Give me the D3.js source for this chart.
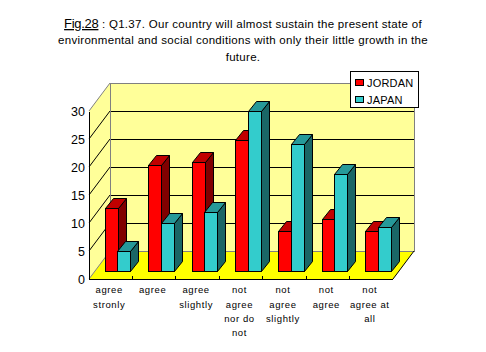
<!DOCTYPE html>
<html>
<head>
<meta charset="utf-8">
<script src="https://d3js.org/d3.v7.min.js"></script>
<style>
  body { margin: 0; background: #fff; }
  text { font-family: "Liberation Sans", Arial, sans-serif; fill: #000; }
</style>
</head>
<body>
<div id="chart"></div>
<script>
const categories = ["agree stronly", "agree", "agree slightly", "not agree nor do not", "not agree slightly", "not agree", "not agree at all"]
const categoryLines = [["agree", "stronly"], ["agree"], ["agree", "slightly"], ["not", "agree", "nor do", "not"], ["not", "agree", "slightly"], ["not", "agree"], ["not", "agree at", "all"]]
const seriesNames = ["JORDAN", "JAPAN"]
const jordan = [11.4, 19, 19.5, 23.5, 7.2, 9.4, 7.2]
const japan = [3.7, 8.7, 10.6, 28.6, 22.8, 17.4, 7.9]
const yTicks = [0, 5, 10, 15, 20, 25, 30]
const titleLines = [
  ": Q1.37. Our country will almost sustain the present state of",
  "environmental and social conditions with only their little growth in the",
  "future."
]

const width = 486, height = 352
const plot = {left: 89, right: 393, top: 111, bottom: 279}
const depth = {x: 21, y: 28}        // wall depth
const barShift = {x: 6.5, y: 8}     // bars stand a bit behind the front edge
const barDepth = {x: 8, y: 10}

const fills = [
  {front: "#ff0000", top: "#c00000", side: "#800000"},
  {front: "#33cccc", top: "#269999", side: "#1a6666"}
]

const svg = d3.select("#chart").append("svg")
  .attr("width", width)
  .attr("height", height)
  .style("display", "block")

const x = d3.scaleBand().domain(categories).range([plot.left, plot.right])
const y = d3.scaleLinear().domain([0, 30]).range([plot.bottom, plot.top])
const barX = d3.scaleBand().domain(seriesNames).range([0, 25])

const pts = a => a.map(p => p.join(",")).join(" ")

// Walls and floor
const geo = svg.append("g")

geo.append("polygon")
  .attr("points", pts([[plot.left, plot.bottom], [plot.left + depth.x, plot.bottom - depth.y], [plot.left + depth.x, plot.top - depth.y], [plot.left, plot.top]]))
  .attr("fill", "#ffff99")
geo.append("rect")
  .attr("x", plot.left + depth.x)
  .attr("y", plot.top - depth.y)
  .attr("width", plot.right - plot.left)
  .attr("height", plot.bottom - plot.top)
  .attr("fill", "#ffff99")
geo.append("polygon")
  .attr("points", pts([[plot.left, plot.bottom], [plot.right, plot.bottom], [plot.right + depth.x, plot.bottom - depth.y], [plot.left + depth.x, plot.bottom - depth.y]]))
  .attr("fill", "#ffff00")

// Gridlines on both walls
yTicks.slice(1, -1).forEach(t => {
  geo.append("line")
    .attr("x1", plot.left).attr("y1", y(t))
    .attr("x2", plot.left + depth.x).attr("y2", y(t) - depth.y)
    .attr("stroke", "#000")
  geo.append("line")
    .attr("x1", plot.left + depth.x).attr("y1", y(t) - depth.y + 0.5)
    .attr("x2", plot.right + depth.x).attr("y2", y(t) - depth.y + 0.5)
    .attr("stroke", "#000")
    .attr("shape-rendering", "crispEdges")
})

// Back wall border
geo.append("path")
  .attr("d", `M${plot.left + depth.x},${plot.bottom - depth.y}V${plot.top - depth.y}H${plot.right + depth.x}V${plot.bottom - depth.y}H${plot.left + depth.x}`)
  .attr("fill", "none").attr("stroke", "#808080").attr("shape-rendering", "crispEdges")
geo.append("line")
  .attr("x1", plot.left).attr("y1", plot.top)
  .attr("x2", plot.left + depth.x).attr("y2", plot.top - depth.y)
  .attr("stroke", "#808080")
geo.append("line")
  .attr("x1", plot.left).attr("y1", plot.bottom)
  .attr("x2", plot.left + depth.x).attr("y2", plot.bottom - depth.y)
  .attr("stroke", "#808080")
geo.append("line")
  .attr("x1", plot.right).attr("y1", plot.bottom)
  .attr("x2", plot.right + depth.x).attr("y2", plot.bottom - depth.y)
  .attr("stroke", "#000")

// Bars
const h = v => y(0) - y(v)
categories.forEach((c, i) => {
  [jordan[i], japan[i]].forEach((v, s) => {
    const x0 = Math.round(x(c) + x.bandwidth() / 2 - 12.5 + barShift.x + barX(seriesNames[s])) + 0.5
    const x1 = x0 + Math.round(barX.bandwidth())
    const yb = y(0) - barShift.y + 0.5
    const yt = Math.round(yb - h(v)) + 0.5
    const g = svg.append("g").attr("stroke", "#000").attr("stroke-linejoin", "miter")
    g.append("polygon").attr("fill", fills[s].side)
      .attr("points", pts([[x1, yb], [x1 + barDepth.x, yb - barDepth.y], [x1 + barDepth.x, yt - barDepth.y], [x1, yt]]))
    g.append("polygon").attr("fill", fills[s].top)
      .attr("points", pts([[x0, yt], [x1, yt], [x1 + barDepth.x, yt - barDepth.y], [x0 + barDepth.x, yt - barDepth.y]]))
    g.append("rect").attr("fill", fills[s].front)
      .attr("x", x0).attr("y", yt).attr("width", x1 - x0).attr("height", yb - yt)
  })
})

// Axes
const yAxis = svg.append("g")
  .attr("transform", `translate(${plot.left},0)`)
  .call(d3.axisLeft(y).tickValues(yTicks).tickSize(0).tickPadding(4))
yAxis.select(".domain").attr("stroke", "#000").attr("shape-rendering", "crispEdges")
yAxis.selectAll("text").style("font-size", "12.5px")

const xAxis = svg.append("g").attr("transform", `translate(0,${plot.bottom})`)
xAxis.append("line")
  .attr("x1", plot.left).attr("x2", plot.right)
  .attr("stroke", "#000").attr("shape-rendering", "crispEdges")
const rows = [14, 29, 43, 57]
categories.forEach((c, i) => {
  if (i > 0) {
    xAxis.append("line")
      .attr("x1", x(c)).attr("x2", x(c))
      .attr("y1", -3).attr("y2", 0)
      .attr("stroke", "#000").attr("shape-rendering", "crispEdges")
  }
  categoryLines[i].forEach((line, j) => {
    xAxis.append("text")
      .attr("x", x(c) + x.bandwidth() / 2 - 1.5)
      .attr("y", rows[j])
      .attr("text-anchor", "middle")
      .style("font-size", "9.5px")
      .style("letter-spacing", "0.6px")
      .text(line)
  })
})

// Legend
const legend = svg.append("g")
legend.append("rect")
  .attr("x", 350.5).attr("y", 71.5).attr("width", 68).attr("height", 36)
  .attr("fill", "#fff").attr("stroke", "#000")
seriesNames.forEach((n, i) => {
  legend.append("rect")
    .attr("x", 355.5).attr("y", 79.5 + i * 17).attr("width", 8).attr("height", 6)
    .attr("fill", fills[i].front).attr("stroke", "#000")
  legend.append("text")
    .attr("x", 367).attr("y", 87 + i * 17)
    .style("font-size", "11px")
    .style("letter-spacing", "0.2px")
    .text(n)
})

// Title
const title = svg.append("g").style("font-size", "11.5px").style("letter-spacing", "0.3px")
const first = title.append("text").attr("x", 243).attr("y", 28).attr("text-anchor", "middle")
first.append("tspan").style("text-decoration", "underline").style("font-size", "13px").style("letter-spacing", "-0.3px").text("Fig.28")
first.append("tspan").text(" " + titleLines[0])
title.append("text").attr("x", 243).attr("y", 44).attr("text-anchor", "middle").text(titleLines[1])
title.append("text").attr("x", 243).attr("y", 61).attr("text-anchor", "middle").text(titleLines[2])
</script>
</body>
</html>
